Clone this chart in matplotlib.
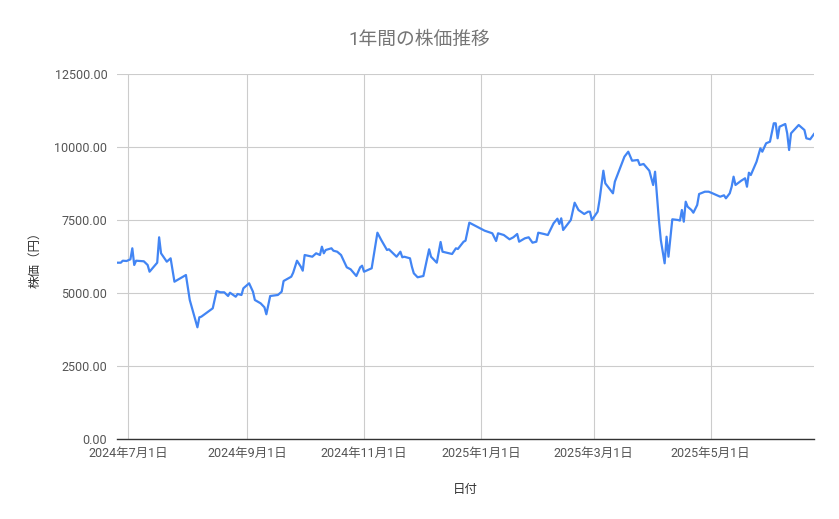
import pandas as pd
import matplotlib
matplotlib.use("Agg")
import matplotlib.pyplot as plt
import matplotlib.dates as mdates
from matplotlib.ticker import FuncFormatter, MultipleLocator

plt.rcParams['font.family'] = ['Roboto', 'Noto Sans CJK JP', 'DejaVu Sans']

# 日付と株価（円）
dates = [
    "2024-06-25", "2024-06-27", "2024-06-28", "2024-06-30", "2024-07-02", "2024-07-03",
    "2024-07-04", "2024-07-05", "2024-07-09", "2024-07-11", "2024-07-12", "2024-07-16",
    "2024-07-17", "2024-07-18", "2024-07-21", "2024-07-23", "2024-07-25", "2024-07-31",
    "2024-08-02", "2024-08-06", "2024-08-07", "2024-08-08", "2024-08-14", "2024-08-16",
    "2024-08-18", "2024-08-20", "2024-08-22", "2024-08-23", "2024-08-26", "2024-08-27",
    "2024-08-29", "2024-08-30", "2024-09-02", "2024-09-04", "2024-09-05", "2024-09-08",
    "2024-09-10", "2024-09-11", "2024-09-13", "2024-09-17", "2024-09-19", "2024-09-20",
    "2024-09-24", "2024-09-25", "2024-09-27", "2024-09-29", "2024-09-30", "2024-10-01",
    "2024-10-05", "2024-10-07", "2024-10-09", "2024-10-10", "2024-10-11", "2024-10-12",
    "2024-10-15", "2024-10-16", "2024-10-18", "2024-10-20", "2024-10-23", "2024-10-25",
    "2024-10-28", "2024-10-30", "2024-10-31", "2024-11-01", "2024-11-05", "2024-11-08",
    "2024-11-10", "2024-11-13", "2024-11-14", "2024-11-18", "2024-11-20", "2024-11-21",
    "2024-11-22", "2024-11-25", "2024-11-26", "2024-11-27", "2024-11-29", "2024-12-02",
    "2024-12-05", "2024-12-06", "2024-12-09", "2024-12-11", "2024-12-12", "2024-12-17",
    "2024-12-19", "2024-12-20", "2024-12-23", "2024-12-24", "2024-12-26", "2024-12-30",
    "2025-01-03", "2025-01-07", "2025-01-09", "2025-01-10", "2025-01-13", "2025-01-16",
    "2025-01-18", "2025-01-20", "2025-01-21", "2025-01-24", "2025-01-26", "2025-01-28",
    "2025-01-30", "2025-01-31", "2025-02-03", "2025-02-05", "2025-02-08", "2025-02-10",
    "2025-02-11", "2025-02-12", "2025-02-13", "2025-02-17", "2025-02-19", "2025-02-21",
    "2025-02-24", "2025-02-26", "2025-02-27", "2025-02-28", "2025-03-03", "2025-03-04",
    "2025-03-06", "2025-03-07", "2025-03-11", "2025-03-12", "2025-03-14", "2025-03-17",
    "2025-03-19", "2025-03-21", "2025-03-24", "2025-03-25", "2025-03-27", "2025-03-30",
    "2025-04-01", "2025-04-02", "2025-04-04", "2025-04-05", "2025-04-07", "2025-04-08",
    "2025-04-09", "2025-04-11", "2025-04-14", "2025-04-15", "2025-04-16", "2025-04-17",
    "2025-04-18", "2025-04-19", "2025-04-21", "2025-04-22", "2025-04-24", "2025-04-25",
    "2025-04-28", "2025-04-30", "2025-05-02", "2025-05-06", "2025-05-08", "2025-05-09",
    "2025-05-11", "2025-05-12", "2025-05-13", "2025-05-14", "2025-05-17", "2025-05-19",
    "2025-05-20", "2025-05-21", "2025-05-22", "2025-05-25", "2025-05-27", "2025-05-28",
    "2025-05-30", "2025-06-01", "2025-06-03", "2025-06-04", "2025-06-05", "2025-06-06",
    "2025-06-09", "2025-06-10", "2025-06-11", "2025-06-12", "2025-06-16", "2025-06-18",
    "2025-06-19", "2025-06-20", "2025-06-22", "2025-06-24",
]
prices = [
    6038, 6038, 6106, 6096, 6154, 6531,
    5959, 6106, 6086, 5959, 5729, 6038,
    6908, 6360, 6072, 6188, 5387, 5616,
    4760, 3825, 4168, 4188, 4476, 5068,
    5024, 5024, 4897, 5010, 4873, 4966,
    4932, 5161, 5332, 5045, 4760, 4647,
    4510, 4271, 4897, 4932, 5045, 5411,
    5558, 5695, 6106, 5901, 5764, 6301,
    6243, 6360, 6301, 6586, 6360, 6473,
    6531, 6449, 6414, 6301, 5880, 5812,
    5582, 5880, 5935, 5729, 5846, 7065,
    6815, 6473, 6497, 6243, 6414, 6223,
    6243, 6188, 5901, 5675, 5538, 5582,
    6497, 6243, 6038, 6747, 6414, 6336,
    6531, 6507, 6757, 6791, 7408, 7271,
    7134, 7045, 6781, 7045, 6986, 6839,
    6908, 7021, 6757, 6873, 6908, 6723,
    6757, 7065, 7021, 6986, 7387, 7545,
    7363, 7558, 7158, 7500, 8092, 7842,
    7705, 7784, 7784, 7500, 7784, 8185,
    9188, 8757, 8414, 8812, 9154, 9668,
    9839, 9531, 9555, 9384, 9418, 9188,
    8699, 9154, 7500, 6815, 6017, 6928,
    6243, 7524, 7500, 7480, 7842, 7442,
    8127, 7955, 7842, 7750, 8014, 8390,
    8469, 8469, 8414, 8298, 8346, 8243,
    8414, 8640, 8983, 8699, 8846, 8928,
    8640, 9120, 9041, 9497, 9955, 9839,
    10127, 10182, 10812, 10812, 10298, 10695,
    10788, 10469, 9897, 10469, 10753, 10640,
    10582, 10298, 10264, 10445,
]

title = "1年間の株価推移"
x_label = "日付"
y_label = "株価（円）"

df = pd.DataFrame({"date": pd.to_datetime(dates), "price": prices})

fig = plt.figure(figsize=(8.39, 5.19), dpi=100)
ax = fig.add_axes([117 / 839, 1 - 439 / 519, (814 - 117) / 839, (439 - 74) / 519])

ax.plot(df["date"], df["price"], color="#4285F4", linewidth=1.6, zorder=3)

ax.set_xlim(df["date"].min(), df["date"].max())
ax.set_ylim(0, 12500)
ax.yaxis.set_major_locator(MultipleLocator(2500))
ax.yaxis.set_major_formatter(FuncFormatter(lambda v, p: f"{v:.2f}"))
ax.xaxis.set_major_locator(mdates.MonthLocator(bymonth=[1, 3, 5, 7, 9, 11]))
ax.xaxis.set_major_formatter(FuncFormatter(
    lambda v, p: (lambda d: f"{d.year}年{d.month}月{d.day}日")(mdates.num2date(v))))

ax.grid(True, color="#cccccc", linewidth=0.8, zorder=0)
for s in ["top", "right", "left"]:
    ax.spines[s].set_visible(False)
ax.spines["bottom"].set_color("#333333")
ax.spines["bottom"].set_linewidth(1.0)
ax.spines["bottom"].set_zorder(4)
ax.tick_params(axis="both", length=0, labelsize=9, labelcolor="#555555")
ax.tick_params(axis="y", pad=7)
ax.tick_params(axis="x", pad=6)

fig.text(0.5, 1 - 40 / 519, title, ha="center", va="center", fontsize=13.5, color="#757575")
ax.set_xlabel(x_label, fontsize=9, color="#333333", labelpad=16)
ax.set_ylabel(y_label, fontsize=9, color="#333333", labelpad=9)

fig.savefig("out.png", dpi=100, facecolor="white")
